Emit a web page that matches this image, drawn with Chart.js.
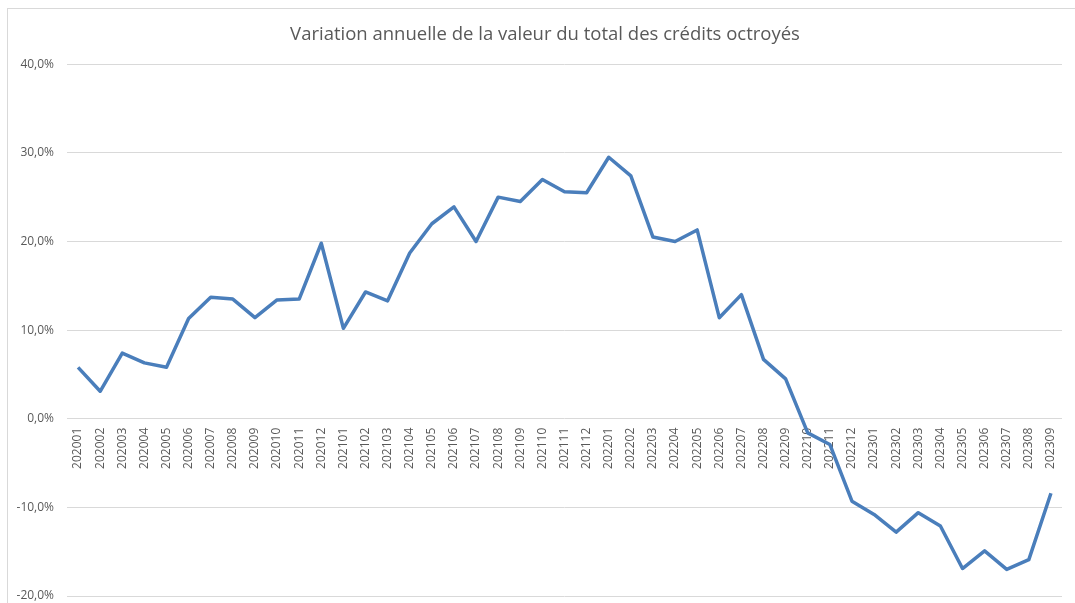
<!DOCTYPE html>
<html>
<head>
<meta charset="utf-8">
<script src="https://cdn.jsdelivr.net/npm/chart.js@4/dist/chart.umd.min.js"></script>
<style>
  html, body { margin: 0; padding: 0; background: #fff; overflow: hidden; }
  #wrap { position: relative; width: 1075px; height: 603px; }
  #frame { position: absolute; left: 7px; top: 8px; width: 1100px; height: 640px; border: 1px solid #d9d9d9; box-sizing: border-box; }
  canvas { position: absolute; left: 0; top: 0; }
</style>
</head>
<body>
<div id="wrap">
  <div id="frame"></div>
  <canvas id="c" width="1075" height="603"></canvas>
</div>
<script>
const chartTitle = 'Variation annuelle de la valeur du total des crédits octroyés';
const months = [
  '202001','202002','202003','202004','202005','202006','202007','202008','202009','202010','202011','202012',
  '202101','202102','202103','202104','202105','202106','202107','202108','202109','202110','202111','202112',
  '202201','202202','202203','202204','202205','202206','202207','202208','202209','202210','202211','202212',
  '202301','202302','202303','202304','202305','202306','202307','202308','202309'
];
const variation = [
  5.8, 3.1, 7.4, 6.3, 5.8, 11.3, 13.7, 13.5, 11.4, 13.4, 13.5, 19.8,
  10.2, 14.3, 13.3, 18.7, 22.0, 23.9, 20.0, 25.0, 24.5, 27.0, 25.6, 25.5,
  29.5, 27.4, 20.5, 20.0, 21.3, 11.4, 14.0, 6.7, 4.5, -1.6, -2.9, -9.3,
  -10.8, -12.8, -10.6, -12.1, -16.9, -14.9, -17.0, -15.9, -8.4
];
const yMin = -20, yMax = 40, yStep = 10;

const fontFamily = '"Open Sans", "DejaVu Sans", sans-serif';
const textColor = '#595959';

new Chart(document.getElementById('c'), {
  type: 'line',
  data: {
    labels: months,
    datasets: [{
      data: variation,
      borderColor: '#4A7EBB',
      backgroundColor: '#4A7EBB',
      borderWidth: 3.5,
      pointRadius: 0,
      tension: 0,
      fill: false,
      borderJoinStyle: 'round'
    }]
  },
  options: {
    responsive: false,
    animation: false,
    layout: { padding: { left: 28, right: 13, top: 24, bottom: 7 } },
    plugins: {
      legend: { display: false },
      tooltip: { enabled: false },
      title: {
        display: true,
        text: chartTitle,
        color: textColor,
        font: { family: fontFamily, size: 18.5, weight: 'normal' },
        padding: { top: 0, bottom: 18 }
      }
    },
    scales: {
      x: {
        type: 'category',
        position: { y: 0 },
        offset: true,
        grid: { display: false, drawTicks: false },
        border: { display: false },
        ticks: {
          autoSkip: false,
          minRotation: 90,
          maxRotation: 90,
          padding: 9,
          color: textColor,
          font: { family: fontFamily, size: 12 }
        },
        afterFit: (scale) => {
          scale.height = 0;
          scale.paddingTop = 0; scale.paddingBottom = 0;
          scale.paddingLeft = 0; scale.paddingRight = 0;
        }
      },
      y: {
        min: yMin,
        max: yMax,
        grid: { color: '#d9d9d9', lineWidth: 1, drawTicks: false },
        border: { display: false },
        ticks: {
          stepSize: yStep,
          padding: 13,
          color: textColor,
          font: { family: fontFamily, size: 12 },
          callback: (v) => v.toFixed(1).replace('.', ',') + '%'
        },
        afterFit: (scale) => {
          scale.width = 39;
          scale.paddingTop = 0;
          scale.paddingBottom = 0;
          scale._computeLabelArea = () => undefined;
        }
      }
    }
  }
});
</script>
</body>
</html>
